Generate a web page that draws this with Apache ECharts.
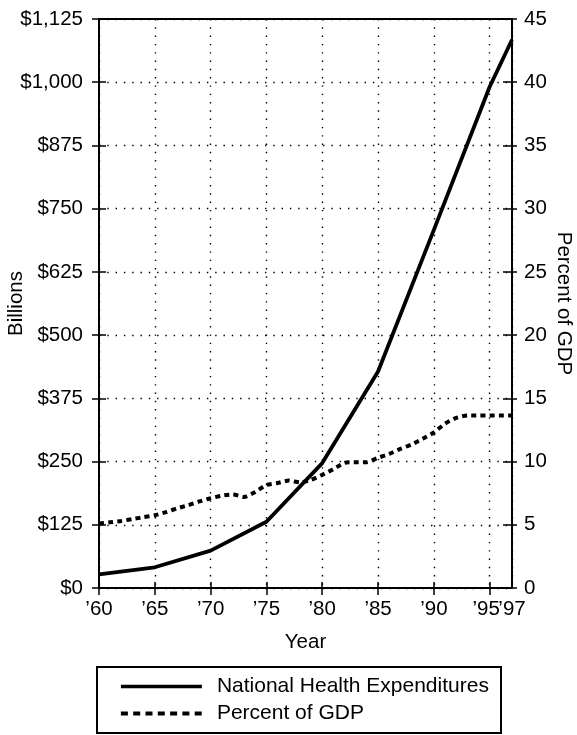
<!DOCTYPE html>
<html>
<head>
<meta charset="utf-8">
<script src="https://cdn.jsdelivr.net/npm/echarts@6/dist/echarts.min.js"></script>
<style>
html,body{margin:0;padding:0;background:#fff;}
#chart{width:577px;height:735px;}
</style>
</head>
<body>
<div id="chart"></div>
<script>
// ---- data ----
var nheYears = [1960, 1965, 1970, 1975, 1980, 1985, 1990, 1995, 1997];
var nheBillions = [27, 41, 74, 131, 247, 428, 708, 991, 1084];

var gdpYears = [1960,1961,1962,1963,1964,1965,1966,1967,1968,1969,
                1970,1971,1972,1973,1974,1975,1976,1977,1978,1979,
                1980,1981,1982,1983,1984,1985,1986,1987,1988,1989,
                1990,1991,1992,1993,1994,1995,1996,1997];
var gdpPercent = [5.1,5.2,5.3,5.45,5.6,5.75,6.0,6.3,6.55,6.85,
                  7.1,7.3,7.4,7.2,7.6,8.15,8.3,8.5,8.35,8.55,
                  8.95,9.4,9.9,9.95,9.95,10.3,10.6,11.0,11.35,11.8,
                  12.3,13.0,13.45,13.65,13.65,13.65,13.65,13.65];

var xTickYears = [1960,1965,1970,1975,1980,1985,1990,1995,1997];
var xTickLabels = ["\u201960","\u201965","\u201970","\u201975","\u201980","\u201985","\u201990","\u201995","\u201997"];
var leftTickLabels = ["$0","$125","$250","$375","$500","$625","$750","$875","$1,000","$1,125"];
var rightTickLabels = ["0","5","10","15","20","25","30","35","40","45"];

var seriesNames = ["National Health Expenditures", "Percent of GDP"];

// ---- chart ----
var FONT = "'Liberation Sans', Arial, Helvetica, sans-serif";
var chart = echarts.init(document.getElementById('chart'), null, {renderer: 'canvas'});

function pairs(xs, ys) { return xs.map(function (x, i) { return [x, ys[i]]; }); }
function xLabel(v) { var i = xTickYears.indexOf(v); return i >= 0 ? xTickLabels[i] : ''; }

var dotted = {show: true, lineStyle: {color: '#000', width: 1.4, type: [1.4, 6.9]}};
var txt = {color: '#000', fontFamily: FONT, fontSize: 20.5};
var richX = {
  n: {color: '#000', fontFamily: FONT, fontSize: 20.5},
  s: {color: '#000', fontFamily: FONT, fontSize: 20.5, padding: [0, 7, 0, 0]}
};

var option = {
  backgroundColor: '#fff',
  animation: false,
  grid: {left: 99, right: 65, top: 19, bottom: 147, show: true, borderColor: '#000', borderWidth: 2, outerBoundsMode: 'none'},
  legend: {
    orient: 'vertical', left: 119, top: 676, itemWidth: 81, itemHeight: 20, itemGap: 6,
    padding: 0,
    itemStyle: {color: 'rgba(0,0,0,0)', borderWidth: 0, opacity: 0},
    textStyle: {color: '#000', fontFamily: FONT, fontSize: 21, padding: [0, 0, 0, 10]},
    data: [
      {name: seriesNames[0], lineStyle: {width: 3.6, type: 'solid'}},
      {name: seriesNames[1], lineStyle: {width: 3.8, type: [7, 5.3]}}
    ]
  },
  graphic: [{
    type: 'rect', shape: {x: 97, y: 667, width: 404, height: 66},
    style: {fill: 'none', stroke: '#000', lineWidth: 2}, silent: true
  }],
  xAxis: [{
    type: 'value', position: 'bottom', min: 1960, max: 1997, interval: 5,
    name: 'Year', nameLocation: 'middle', nameGap: 44, nameTextStyle: txt, nameMoveOverlap: false,
    axisLine: {show: true, lineStyle: {color: '#000', width: 2}},
    axisTick: {show: true, inside: false, length: 7, lineStyle: {color: '#000', width: 1.5}},
    axisLabel: Object.assign({margin: 11, showMinLabel: true, showMaxLabel: false, hideOverlap: false, rich: richX,
      formatter: function (v) {
        if (v === 1997) return '';
        return v === 1995 ? '{s|' + xLabel(v) + '}' : '{n|' + xLabel(v) + '}';
      }}, txt),
    splitLine: dotted
  }, {
    type: 'value', position: 'bottom', min: 1960, max: 1997, interval: 5,
    axisLine: {show: false},
    axisTick: {show: true, inside: true, length: 6, lineStyle: {color: '#000', width: 1.5}},
    axisLabel: Object.assign({margin: 11, showMinLabel: false, showMaxLabel: true, hideOverlap: false,
      formatter: function (v) { return v === 1997 ? xLabel(v) : ''; }}, txt),
    splitLine: {show: false}
  }],
  yAxis: [{
    type: 'value', position: 'left', min: 0, max: 1125, interval: 125,
    name: 'Billions', nameLocation: 'middle', nameGap: 72, nameRotate: 90, nameTextStyle: txt, nameMoveOverlap: false,
    axisLine: {show: true, lineStyle: {color: '#000', width: 2}},
    axisTick: {show: true, inside: false, length: 7, lineStyle: {color: '#000', width: 1.5}},
    axisLabel: Object.assign({margin: 16, formatter: function (v) { return leftTickLabels[Math.round(v / 125)]; }}, txt),
    splitLine: dotted
  }, {
    type: 'value', position: 'right', min: 0, max: 45, interval: 5,
    name: 'Percent of GDP', nameLocation: 'middle', nameGap: 41, nameRotate: -90, nameTextStyle: txt, nameMoveOverlap: false,
    axisLine: {show: true, lineStyle: {color: '#000', width: 2}},
    axisTick: {show: true, inside: false, length: 5, lineStyle: {color: '#000', width: 1.5}},
    axisLabel: Object.assign({margin: 12, formatter: function (v) { return rightTickLabels[Math.round(v / 5)]; }}, txt),
    splitLine: {show: false}
  }, {
    type: 'value', position: 'left', min: 0, max: 1125, interval: 125,
    axisLine: {show: false},
    axisTick: {show: true, inside: true, length: 7, lineStyle: {color: '#000', width: 1.5}},
    axisLabel: {show: false}, splitLine: {show: false}
  }, {
    type: 'value', position: 'right', min: 0, max: 45, interval: 5,
    axisLine: {show: false},
    axisTick: {show: true, inside: true, length: 9, lineStyle: {color: '#000', width: 1.5}},
    axisLabel: {show: false}, splitLine: {show: false}
  }],
  series: [{
    name: seriesNames[0], type: 'line', xAxisIndex: 0, yAxisIndex: 0,
    data: pairs(nheYears, nheBillions), showSymbol: false, symbol: 'none',
    lineStyle: {color: '#000', width: 3.8, type: 'solid'}, itemStyle: {color: '#000'}, z: 3
  }, {
    name: seriesNames[1], type: 'line', xAxisIndex: 0, yAxisIndex: 1,
    data: pairs(gdpYears, gdpPercent), showSymbol: false, symbol: 'none', smooth: 0.2,
    lineStyle: {color: '#000', width: 4, type: [5, 4.2]}, itemStyle: {color: '#000'}, z: 2
  }]
};
chart.setOption(option);
</script>
</body>
</html>
